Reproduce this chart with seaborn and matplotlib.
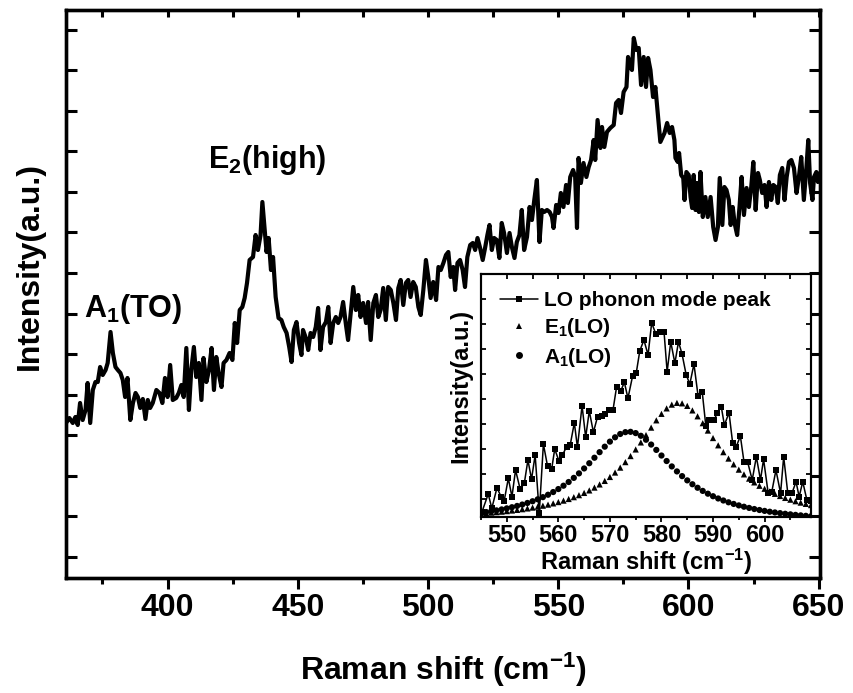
import numpy as np
import pandas as pd
import matplotlib
matplotlib.use("Agg")
import matplotlib.pyplot as plt
import seaborn as sns
from matplotlib.lines import Line2D
from matplotlib.ticker import MultipleLocator, FixedLocator

# ---------------- data ----------------
main_shift = [
    361.0, 362.3, 363.6, 364.6, 365.5, 366.4, 367.4, 368.5, 369.3, 370.3,
    371.3, 372.3, 373.2, 374.1, 375.1, 376.2, 377.0, 378.1, 379.0, 380.0,
    380.9, 381.9, 382.8, 383.7, 384.6, 385.7, 386.7, 387.7, 388.6, 389.5,
    390.5, 391.5, 392.4, 393.3, 394.3, 395.7, 396.9, 398.0, 399.0, 400.0,
    401.0, 402.0, 403.3, 404.3, 405.3, 406.2, 407.2, 408.2, 409.1, 410.1,
    411.0, 412.0, 413.0, 413.8, 414.9, 415.9, 416.9, 417.8, 418.7, 419.6,
    420.7, 421.5, 422.6, 423.8, 424.9, 425.8, 426.7, 427.7, 428.7, 429.6,
    430.5, 431.5, 432.8, 433.8, 434.7, 435.7, 436.4, 437.3, 438.0, 438.8,
    439.7, 440.5, 441.5, 442.6,
    443.7, 444.6, 445.7, 446.7, 447.6, 448.5, 449.5, 450.5, 451.4, 452.0,
    453.1, 454.0, 454.9, 455.9, 456.9, 457.8, 458.7, 459.7, 460.8, 461.7,
    462.6, 463.6, 464.6, 465.5, 466.4, 467.4, 468.5, 469.3, 470.3, 471.3,
    472.3, 473.2, 474.1, 475.1, 476.2, 477.0, 478.0, 479.0, 480.0, 480.9,
    481.8, 482.8, 483.8, 484.7, 485.7, 486.7, 487.7, 488.6, 489.5, 490.5,
    491.5, 492.4, 493.3, 494.3, 495.3, 496.3, 497.2, 498.2, 499.2, 500.1,
    501.0, 502.0, 503.1, 504.0, 504.9, 505.9, 506.9, 507.8, 508.7, 509.7,
    510.4, 511.3, 512.3, 513.3, 514.2, 515.1, 516.2, 517.2, 518.1, 519.0,
    520.0, 521.0, 521.9, 522.8, 523.6,
    524.5, 525.4, 526.4, 527.4, 528.3, 529.2, 530.3, 531.3, 532.2, 533.2,
    534.1, 535.1, 536.0, 536.9, 538.0, 539.0, 539.9, 540.8, 541.8, 542.8,
    543.7, 544.6, 545.7, 546.7, 547.6, 548.2, 549.2, 550.1, 551.0, 552.0,
    553.0, 553.7, 554.6, 555.7, 556.5, 557.2, 557.8, 558.7, 559.7, 560.8,
    561.7, 562.6, 563.6, 564.2, 565.1, 566.2, 566.8, 567.7, 568.7, 570.0,
    571.3, 572.2, 573.2, 574.1, 575.1, 576.2, 576.8, 577.7, 578.3, 579.0,
    580.0, 580.9, 581.8, 582.8, 583.7, 584.5, 585.4, 586.4, 587.3, 588.2,
    589.2,
    589.9, 590.8, 591.8, 592.8, 593.7, 594.6, 595.0, 595.9, 596.4, 597.2,
    598.0, 598.5, 599.2, 600.1, 600.8, 601.4, 602.0, 602.7, 603.3, 604.0,
    604.6, 605.5, 606.5, 607.4, 608.5, 609.5, 610.4, 611.3, 612.0, 613.0,
    613.8, 614.6, 615.5, 616.2, 617.0, 617.7, 618.7, 619.6, 620.4, 621.3,
    622.3, 623.2, 624.1, 624.9, 625.8, 626.7, 627.4, 628.3, 629.2, 630.0,
    630.9, 631.8, 632.6, 633.5, 634.3, 635.1, 636.0, 636.9, 637.7, 638.6,
    639.5, 640.5, 641.5, 642.4, 643.3, 644.3, 645.3, 646.0, 646.7, 647.6,
    648.2, 649.1, 649.7, 650.5,
]
main_intensity = [
    155, 160, 155, 161, 153, 175, 158, 168, 195, 155,
    188, 196, 196, 211, 203, 208, 215, 246, 225, 211,
    208, 205, 198, 181, 200, 158, 175, 185, 181, 170,
    179, 159, 178, 170, 175, 188, 185, 175, 200, 181,
    213, 178, 180, 185, 193, 181, 230, 168, 208, 231,
    201, 215, 178, 220, 196, 208, 230, 188, 221, 205,
    191, 215, 218, 225, 218, 255, 235, 268, 271, 280,
    295, 318, 321, 343, 328, 343, 376, 348, 326, 340,
    308, 321, 281, 260,
    258, 251, 245, 231, 216, 248, 256, 235, 223, 248,
    240, 228, 245, 241, 251, 270, 228, 251, 256, 271,
    235, 255, 261, 255, 261, 276, 253, 238, 265, 291,
    268, 283, 261, 275, 255, 276, 238, 275, 283, 261,
    268, 290, 258, 291, 288, 275, 258, 290, 298, 273,
    295, 298, 281, 296, 291, 271, 263, 288, 318, 301,
    280, 296, 278, 311, 308, 315, 323, 326, 301, 311,
    288, 315, 318, 308, 291, 321, 333, 335, 328, 340,
    330, 318, 330, 343, 353,
    328, 340, 338, 320, 355, 345, 325, 345, 331, 320,
    336, 343, 368, 328, 341, 371, 358, 378, 398, 336,
    368, 366, 368, 366, 361, 350, 373, 365, 385, 371,
    393, 375, 401, 408, 401, 350, 420, 395, 415, 401,
    411, 418, 438, 418, 458, 430, 451, 431, 446, 450,
    453, 475, 478, 465, 486, 491, 521, 511, 508, 540,
    528, 530, 493, 521, 491, 520, 508, 481, 491, 465,
    436,
    440, 445, 455, 445, 451, 438, 420, 416, 425, 403,
    400, 378, 406, 403, 381, 370, 403, 368, 395, 366,
    406, 361, 381, 361, 381, 351, 338, 351, 400, 353,
    391, 388, 378, 353, 371, 355, 343, 371, 401, 363,
    390, 371, 391, 416, 368, 405, 398, 385, 393, 371,
    396, 378, 393, 391, 375, 403, 410, 378, 401, 416,
    418, 410, 385, 401, 421, 378, 411, 438, 395, 378,
    401, 406, 396, 405,
]

# inset: measured LO phonon band (squares)
lo_shift = [
    545.2, 546.4, 547.1, 548.1, 548.9, 549.5, 550.3, 551.0, 551.7, 552.6,
    553.4, 554.1, 554.8, 555.5, 556.3, 557.1, 557.9, 558.7, 559.3, 560.1,
    560.8, 561.6, 562.3, 563.1, 563.7, 564.6, 565.3, 566.0, 566.8, 567.6,
    568.4, 569.1, 569.9, 570.6, 571.3, 572.1, 572.8, 573.5, 574.4, 575.1,
    575.8, 576.6, 577.4, 578.1, 578.9, 579.7, 580.5, 581.1, 581.8, 582.6,
    583.3, 584.0, 584.8, 585.5, 586.3, 587.1, 587.9, 588.6, 589.3, 590.2,
    590.8, 591.6, 592.2, 593.1, 593.8, 594.5, 595.3, 596.0, 596.7, 597.6,
    598.4, 599.2, 599.8, 600.7, 601.4, 602.2, 603.1, 603.7, 604.5, 605.3,
    606.1, 606.7, 607.4, 608.2, 609.0,
]
lo_intensity = [
    0.49, 1.20, 0.63, 1.45, 1.09, 0.93, 1.83, 1.09, 2.16, 1.39,
    1.63, 2.56, 1.79, 2.76, 0.43, 3.20, 2.32, 2.19, 3.00, 2.53,
    2.76, 3.09, 3.16, 4.05, 3.07, 4.73, 3.47, 4.52, 3.67, 4.29,
    4.32, 4.40, 4.56, 4.56, 5.49, 5.32, 5.67, 5.03, 5.92, 6.03,
    6.93, 7.36, 6.76, 8.05, 7.60, 7.69, 7.68, 6.09, 7.29, 6.43,
    7.29, 6.79, 5.96, 5.60, 6.40, 5.12, 5.29, 3.93, 4.16, 4.16,
    4.43, 4.69, 3.96, 4.45, 3.25, 3.09, 3.52, 2.49, 2.49, 1.76,
    2.69, 1.76, 2.59, 1.23, 1.29, 2.16, 1.23, 2.69, 1.23, 1.23,
    1.69, 1.09, 1.69, 0.96, 0.90,
]

# inset: fitted components, read at 1 cm-1 steps from 545 to 609
fit_shift = list(range(545, 610))
e1_fit = [
    0.420, 0.437, 0.454, 0.473, 0.493, 0.515, 0.539, 0.564, 0.592, 0.622,
    0.656, 0.692, 0.732, 0.775, 0.824, 0.877, 0.935, 1.000, 1.073, 1.153,
    1.243, 1.343, 1.456, 1.582, 1.723, 1.881, 2.058, 2.255, 2.475, 2.717,
    2.981, 3.262, 3.557, 3.855, 4.146, 4.406, 4.624, 4.775, 4.845, 4.826,
    4.725, 4.543, 4.307, 4.032, 3.737, 3.438, 3.147, 2.873, 2.617, 2.385,
    2.174, 1.985, 1.815, 1.664, 1.529, 1.409, 1.302, 1.206, 1.120, 1.043,
    0.973, 0.911, 0.855, 0.804, 0.757,
]
a1_fit = [
    0.450, 0.479, 0.511, 0.545, 0.583, 0.625, 0.671, 0.722, 0.778, 0.841,
    0.910, 0.988, 1.074, 1.170, 1.278, 1.398, 1.532, 1.680, 1.845, 2.025,
    2.222, 2.431, 2.651, 2.874, 3.093, 3.295, 3.468, 3.600, 3.674, 3.687,
    3.636, 3.528, 3.370, 3.178, 2.964, 2.739, 2.519, 2.303, 2.103, 1.915,
    1.745, 1.590, 1.450, 1.324, 1.212, 1.111, 1.021, 0.940, 0.868, 0.802,
    0.744, 0.691, 0.643, 0.599, 0.560, 0.524, 0.491, 0.462, 0.434, 0.409,
    0.386, 0.365, 0.345, 0.327, 0.311,
]

main_xticks = [400, 450, 500, 550, 600, 650]
inset_xticks = [550, 560, 570, 580, 590, 600]
legend_labels = ["LO phonon mode peak", "E$_1$(LO)", "A$_1$(LO)"]

# ---------------- style ----------------
sns.set_style("white")
plt.rcParams["font.family"] = ["Liberation Sans", "DejaVu Sans"]
plt.rcParams["font.weight"] = "bold"
plt.rcParams["axes.labelweight"] = "bold"
plt.rcParams["text.color"] = "black"
plt.rcParams["axes.labelcolor"] = "black"
plt.rcParams["xtick.color"] = "black"
plt.rcParams["ytick.color"] = "black"
plt.rcParams["axes.edgecolor"] = "black"
plt.rcParams["mathtext.fontset"] = "custom"
plt.rcParams["mathtext.rm"] = "Liberation Sans:bold"
plt.rcParams["mathtext.it"] = "Liberation Sans:bold"
plt.rcParams["mathtext.bf"] = "Liberation Sans:bold"
plt.rcParams["mathtext.sf"] = "Liberation Sans:bold"
plt.rcParams["mathtext.default"] = "rm"

main_df = pd.DataFrame({"shift": main_shift, "intensity": main_intensity})
lo_df = pd.DataFrame({"shift": lo_shift, "intensity": lo_intensity})
fit_df = pd.DataFrame({"shift": fit_shift, "e1": e1_fit, "a1": a1_fit})

fig = plt.figure(figsize=(8.54, 6.93), dpi=100)
ax = fig.add_axes([0.07728, 0.16595, 0.88290, 0.81963])

sns.lineplot(data=main_df, x="shift", y="intensity", ax=ax, color="black",
             linewidth=3.0, sort=False, estimator=None)

ax.set_xlim(361, 650.5)
ax.set_ylim(0, 568)
ax.xaxis.set_major_locator(FixedLocator(main_xticks))
ax.xaxis.set_minor_locator(MultipleLocator(25))
ax.set_yticks(21 + 40.57 * np.arange(14))
ax.tick_params(axis="x", which="major", direction="out", length=8, width=2.2,
               labelsize=23, pad=3, top=False, bottom=True, colors="black")
ax.tick_params(axis="x", which="minor", direction="out", length=4.6, width=2.2,
               top=False, bottom=True)
ax.tick_params(axis="y", which="major", direction="in", length=8, width=2.2,
               left=True, right=True, labelleft=False)
for lab in ax.get_xticklabels():
    lab.set_fontweight("bold")
for sp in ax.spines.values():
    sp.set_linewidth(2.4)
    sp.set_color("black")

ax_top = ax.twiny()
ax_top.set_xlim(ax.get_xlim())
ax_top.set_xticks(np.arange(375, 651, 25))
ax_top.tick_params(axis="x", direction="in", length=5, width=2.2, labeltop=False)
for sp in ax_top.spines.values():
    sp.set_linewidth(2.4)
    sp.set_color("black")

ax.set_xlabel("Raman shift (cm$^{-1}$)", fontsize=23, fontweight="bold",
              labelpad=20, color="black")
ax.set_ylabel("Intensity(a.u.)", fontsize=23, fontweight="bold", color="black")
ax.yaxis.set_label_coords(-0.028, 0.549)

ax.text(368.1, 261, "A$_1$(TO)", fontsize=22, fontweight="bold", ha="left",
        va="baseline", color="black")
ax.text(415.4, 410, "E$_2$(high)", fontsize=22, fontweight="bold", ha="left",
        va="baseline", color="black")

# ---------------- inset ----------------
axin = fig.add_axes([0.56323, 0.25397, 0.38642, 0.35065])
axin.set_facecolor("white")
axin.set_zorder(5)

sns.scatterplot(data=fit_df, x="shift", y="e1", ax=axin, marker="^", s=20,
                color="black", edgecolor="none", linewidth=0, legend=False)
sns.scatterplot(data=fit_df, x="shift", y="a1", ax=axin, marker="o", s=20,
                color="black", edgecolor="none", linewidth=0, legend=False)
sns.lineplot(data=lo_df, x="shift", y="intensity", ax=axin, color="black",
             linewidth=1.1, marker="s", markersize=4, markeredgewidth=0,
             sort=False, estimator=None)

axin.set_xlim(545, 609)
axin.set_ylim(0.28, 10)
axin.xaxis.set_major_locator(FixedLocator(inset_xticks))
axin.xaxis.set_minor_locator(MultipleLocator(5))
axin.set_yticks(np.arange(1, 10))
axin.tick_params(axis="x", which="major", direction="out", length=3.5, width=1.3,
                 labelsize=17, pad=1.5, top=False)
axin.tick_params(axis="x", which="minor", direction="out", length=2.5, width=1.3, top=False)
axin.tick_params(axis="y", direction="in", length=3.5, width=1.3,
                 left=True, right=True, labelleft=False)
for lab in axin.get_xticklabels():
    lab.set_fontweight("bold")
for sp in axin.spines.values():
    sp.set_linewidth(1.5)
    sp.set_color("black")

axin_top = axin.twiny()
axin_top.set_zorder(6)
axin_top.set_xlim(axin.get_xlim())
axin_top.set_xticks(np.arange(545, 610, 5))
axin_top.tick_params(axis="x", direction="in", length=3.5, width=1.3, labeltop=False)
for sp in axin_top.spines.values():
    sp.set_linewidth(1.5)
    sp.set_color("black")

axin.set_xlabel("Raman shift (cm$^{-1}$)", fontsize=17, fontweight="bold", labelpad=0)
axin.set_ylabel("Intensity(a.u.)", fontsize=17, fontweight="bold")
axin.yaxis.set_label_coords(-0.025, 0.54)

handles = [
    Line2D([], [], color="black", linewidth=1.1, marker="s", markersize=4, markeredgewidth=0),
    Line2D([], [], color="black", linestyle="none", marker="^", markersize=5, markeredgewidth=0),
    Line2D([], [], color="black", linestyle="none", marker="o", markersize=5, markeredgewidth=0),
]
axin_top.legend(handles, legend_labels, loc="upper left", bbox_to_anchor=(0.058, 0.93),
                frameon=False, fontsize=15, handlelength=1.8, handletextpad=0.3,
                labelspacing=0.3, borderpad=0, borderaxespad=0, numpoints=1)

fig.savefig("out.png", dpi=100)
